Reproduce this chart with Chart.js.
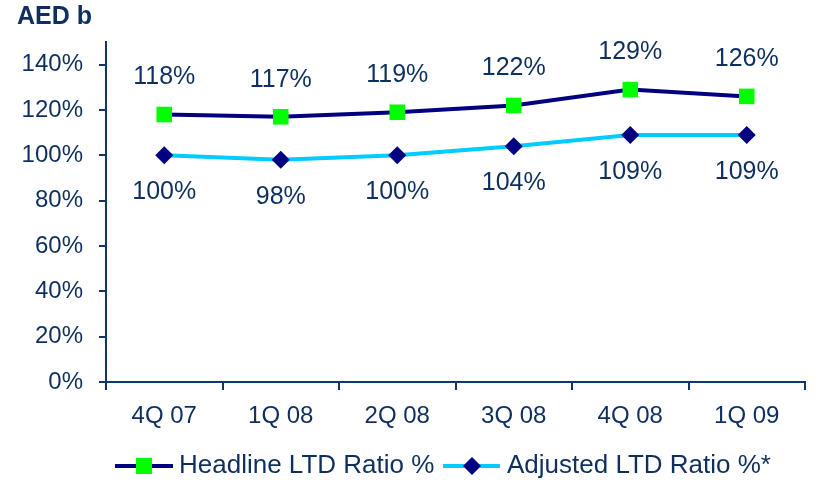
<!DOCTYPE html>
<html>
<head>
<meta charset="utf-8">
<script src="https://cdn.jsdelivr.net/npm/chart.js@4.4.1/dist/chart.umd.min.js"></script>
<style>
  html, body { margin: 0; padding: 0; background: #fff; }
  #wrap { width: 816px; height: 480px; position: relative; }
</style>
</head>
<body>
<div id="wrap"><canvas id="chart" width="816" height="480"></canvas></div>
<script>
'use strict';

const quarters = ['4Q 07', '1Q 08', '2Q 08', '3Q 08', '4Q 08', '1Q 09'];
const headlineRatio = [118, 117, 119, 122, 129, 126];
const adjustedRatio = [100, 98, 100, 104, 109, 109];
const yTicks = [0, 20, 40, 60, 80, 100, 120, 140];

const textColor = '#0e2f5f';
const axisColor = '#12366b';
const fontFamily = 'Arial, "Liberation Sans", sans-serif';

// labels above / below points, legend and unit title
const extrasPlugin = {
  id: 'extras',
  afterDatasetsDraw(chart) {
    const ctx = chart.ctx;
    ctx.save();
    ctx.font = '25px ' + fontFamily;
    ctx.fillStyle = textColor;
    ctx.textAlign = 'center';
    ctx.textBaseline = 'middle';
    chart.getDatasetMeta(0).data.forEach((pt, i) => {
      ctx.fillText(headlineRatio[i] + '%', pt.x, pt.y - 37);
    });
    chart.getDatasetMeta(1).data.forEach((pt, i) => {
      ctx.fillText(adjustedRatio[i] + '%', pt.x, pt.y + 37);
    });

    ctx.font = 'bold 25px ' + fontFamily;
    ctx.textAlign = 'left';
    ctx.fillText('AED b', 17, 17);

    // legend
    const ly = 466;
    ctx.font = '26px ' + fontFamily;
    ctx.lineWidth = 4;
    ctx.strokeStyle = '#000080';
    ctx.beginPath(); ctx.moveTo(115, ly); ctx.lineTo(173, ly); ctx.stroke();
    ctx.fillStyle = '#00ff00';
    ctx.fillRect(136, ly - 8, 16, 16);
    ctx.fillStyle = textColor;
    ctx.fillText('Headline LTD Ratio %', 179, ly);

    ctx.strokeStyle = '#00ccff';
    ctx.beginPath(); ctx.moveTo(443, ly); ctx.lineTo(500, ly); ctx.stroke();
    ctx.fillStyle = '#000080';
    ctx.beginPath();
    ctx.moveTo(472, ly - 9); ctx.lineTo(481, ly); ctx.lineTo(472, ly + 9); ctx.lineTo(463, ly);
    ctx.closePath(); ctx.fill();
    ctx.fillStyle = textColor;
    ctx.fillText('Adjusted LTD Ratio %*', 507, ly);
    ctx.restore();
  }
};

new Chart(document.getElementById('chart'), {
  type: 'line',
  data: {
    labels: quarters,
    datasets: [{
      label: 'Headline LTD Ratio %',
      data: headlineRatio,
      borderColor: '#000080',
      borderWidth: 4,
      pointStyle: 'rect',
      pointRadius: 11,
      pointBackgroundColor: '#00ff00',
      pointBorderWidth: 0,
      tension: 0
    }, {
      label: 'Adjusted LTD Ratio %*',
      data: adjustedRatio,
      borderColor: '#00ccff',
      borderWidth: 4,
      pointStyle: 'rectRot',
      pointRadius: 9,
      pointBackgroundColor: '#000080',
      pointBorderWidth: 0,
      tension: 0
    }]
  },
  options: {
    responsive: false,
    animation: false,
    layout: { padding: { left: 0, right: 8, top: 42, bottom: 48 } },
    plugins: {
      legend: { display: false },
      tooltip: { enabled: false }
    },
    scales: {
      x: {
        offset: true,
        grid: { offset: true, drawOnChartArea: false, tickLength: 8, color: axisColor, lineWidth: 2 },
        border: { color: axisColor, width: 2 },
        ticks: { color: textColor, font: { size: 24, family: fontFamily }, padding: 12, maxRotation: 0 },
        afterFit(scale) { scale.height = 50; }
      },
      y: {
        min: 0,
        max: 150,
        afterBuildTicks(scale) { scale.ticks = yTicks.map(v => ({ value: v })); },
        grid: { drawOnChartArea: false, tickLength: 7, color: axisColor, lineWidth: 2 },
        border: { color: axisColor, width: 2 },
        ticks: {
          color: textColor,
          font: { size: 24, family: fontFamily },
          padding: 16,
          callback: v => v + '%'
        },
        afterFit(scale) { scale.width = 106; }
      }
    }
  },
  plugins: [extrasPlugin]
});
</script>
</body>
</html>
